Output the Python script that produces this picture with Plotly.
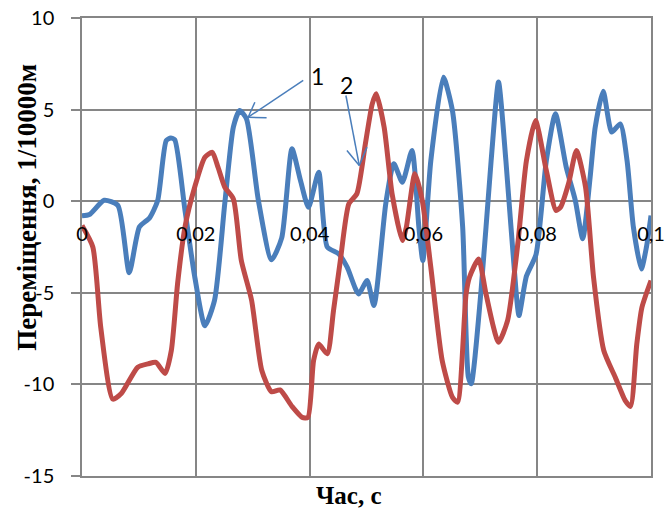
import plotly.graph_objects as go

# Curve 1 (blue): time, s and displacement, 1/10000 m
t1 = [0.0000, 0.0013, 0.0039, 0.0063, 0.0083, 0.0101, 0.0119, 0.0133, 0.0148, 0.0156,
      0.0163, 0.0181, 0.0198, 0.0216, 0.0233, 0.0251, 0.0266, 0.0277, 0.0289, 0.0310,
      0.0333, 0.0351, 0.0369, 0.0384, 0.0398, 0.0416, 0.0431, 0.0451, 0.0466, 0.0486,
      0.0501, 0.0513, 0.0534, 0.0548, 0.0563, 0.0580, 0.0592, 0.0599, 0.0613, 0.0635,
      0.0651, 0.0669, 0.0679, 0.0684, 0.0701, 0.0719, 0.0732, 0.0745, 0.0763, 0.0768,
      0.0781, 0.0798, 0.0816, 0.0832, 0.0851, 0.0867, 0.0880, 0.0893, 0.0902, 0.0916,
      0.0931, 0.0946, 0.0958, 0.0969, 0.0983, 0.0992, 0.1000]
d1 = [-0.80, -0.73, 0.05, -0.23, -3.90, -1.40, -0.90, 0.04, 3.30, 3.45,
      3.35, -0.50, -4.10, -6.80, -5.40, -0.10, 4.04, 4.95, 4.50, 0.04,
      -3.20, -2.00, 2.86, 1.13, -0.33, 1.58, -2.50, -2.87, -3.60, -5.06,
      -4.33, -5.70, -0.10, 2.04, 1.04, 2.77, -1.40, -3.24, 2.20, 6.77,
      4.95, -1.40, -9.60, -9.97, -5.00, 2.20, 6.50, 2.20, -5.00, -6.24,
      -4.10, -2.90, 2.20, 4.77, 1.86, 0.04, -2.05, 1.30, 4.04, 6.00,
      3.77, 4.22, 2.20, -1.40, -3.70, -2.50, -0.78]

# Curve 2 (red)
t2 = [0.0000, 0.0019, 0.0033, 0.0054, 0.0069, 0.0098, 0.0116, 0.0130, 0.0146, 0.0157,
      0.0168, 0.0181, 0.0198, 0.0216, 0.0229, 0.0239, 0.0251, 0.0266, 0.0280, 0.0298,
      0.0316, 0.0333, 0.0348, 0.0369, 0.0387, 0.0397, 0.0407, 0.0416, 0.0431, 0.0442,
      0.0454, 0.0469, 0.0483, 0.0498, 0.0510, 0.0517, 0.0531, 0.0545, 0.0563, 0.0570,
      0.0585, 0.0598, 0.0613, 0.0633, 0.0651, 0.0660, 0.0675, 0.0681, 0.0697, 0.0710,
      0.0732, 0.0748, 0.0766, 0.0781, 0.0797, 0.0816, 0.0833, 0.0841, 0.0855, 0.0869,
      0.0885, 0.0899, 0.0917, 0.0937, 0.0955, 0.0964, 0.0975, 0.0984, 0.1000]
d2 = [-1.33, -2.50, -6.90, -10.80, -10.50, -9.06, -8.88, -8.80, -9.40, -8.15,
      -4.50, -1.40, 0.76, 2.40, 2.67, 1.86, 0.76, 0.13, -3.24, -5.40,
      -9.24, -10.40, -10.30, -11.20, -11.80, -11.80, -8.70, -7.80, -8.33, -5.97,
      -3.24, -0.14, 0.40, 3.13, 5.30, 5.86, 4.04, 0.40, -2.15, -1.42,
      1.50, 0.04, -3.60, -8.70, -10.70, -10.97, -5.06, -4.15, -3.15, -5.06,
      -7.70, -6.50, -2.30, 2.20, 4.40, 1.68, -0.50, -0.33, 0.95, 2.77,
      0.76, -4.15, -8.15, -9.60, -10.90, -11.20, -7.80, -5.80, -4.33]

x_ticks = [0, 0.02, 0.04, 0.06, 0.08, 0.1]
y_ticks = [-15, -10, -5, 0, 5, 10]
y_tick_labels = ["-15", "-10", "-5", "0", "5", "10"]
x_range = [0, 0.1]
y_range = [-15, 10]

BLUE = "#4A7EBB"
RED = "#BE4B48"
GRID = "#868686"
TICK_FONT = dict(family="Lato", size=20, color="black")

fig = go.Figure()
fig.add_trace(go.Scatter(x=t1, y=d1, mode="lines", name="1", xaxis="x",
                         line=dict(color=BLUE, width=5, shape="spline", smoothing=0.6)))
# second curve sits on the overlaid time axis that carries the labels at y = 0
fig.add_trace(go.Scatter(x=t2, y=d2, mode="lines", name="2", xaxis="x2",
                         line=dict(color=RED, width=5, shape="spline", smoothing=0.6)))

# Pointer arrows for the curve labels
arrows = [
    # (tail, tip, head ends)
    ((0.03888, 6.59), (0.0292, 4.585), [(0.03038, 5.40), (0.03244, 4.55)]),
    ((0.04638, 5.77), (0.04873, 1.95), [(0.04656, 2.77), (0.05008, 2.95)]),
]
shapes = []
for tail, tip, heads in arrows:
    shapes.append(dict(type="line", xref="x", yref="y", x0=tail[0], y0=tail[1],
                       x1=tip[0], y1=tip[1], line=dict(color=BLUE, width=1.5)))
    for hx, hy in heads:
        shapes.append(dict(type="line", xref="x", yref="y", x0=hx, y0=hy,
                           x1=tip[0], y1=tip[1], line=dict(color=BLUE, width=1.5)))

annotations = [
    dict(x=0.04146, y=6.86, xref="x", yref="y", text="1", showarrow=False,
         font=dict(family="Lato", size=23, color="black")),
    dict(x=0.04656, y=6.32, xref="x", yref="y", text="2", showarrow=False,
         font=dict(family="Lato", size=23, color="black")),
    dict(x=0.469, y=-0.042, xref="paper", yref="paper", text="<b>Час, с</b>",
         xanchor="center", yanchor="middle", showarrow=False,
         font=dict(family="Liberation Serif", size=25, color="black")),
    dict(x=-0.0967, y=0.588, xref="paper", yref="paper",
         text="<b>Переміщення, 1/10000м</b>", textangle=-90,
         xanchor="center", yanchor="middle", showarrow=False,
         font=dict(family="Liberation Serif", size=27, color="black")),
]

fig.update_layout(
    template="none",
    width=669, height=511,
    margin=dict(l=82, r=18, t=18, b=35, autoexpand=False),
    paper_bgcolor="white", plot_bgcolor="white",
    separators=", ",
    showlegend=False,
    shapes=shapes,
    annotations=annotations,
    xaxis=dict(
        range=x_range, tickvals=x_ticks, automargin=False,
        showgrid=True, gridcolor=GRID, gridwidth=1.5,
        showline=True, linecolor=GRID, linewidth=1.5, mirror=True,
        zeroline=False, ticks="", showticklabels=False,
    ),
    xaxis2=dict(
        range=x_range, tickvals=x_ticks, automargin=False,
        overlaying="x", anchor="free", position=0.6,
        showgrid=False, showline=False, zeroline=False, ticks="",
        ticklabelstandoff=19, tickfont=TICK_FONT,
    ),
    yaxis=dict(
        range=y_range, tickvals=y_ticks, ticktext=y_tick_labels, automargin=False,
        showgrid=True, gridcolor=GRID, gridwidth=1.5,
        showline=True, linecolor=GRID, linewidth=1.5, mirror=True,
        zeroline=False, ticks="outside", ticklen=9, tickcolor=GRID, tickwidth=1.5,
        ticklabelstandoff=13, tickfont=TICK_FONT,
    ),
)

fig.write_html("out.html")
